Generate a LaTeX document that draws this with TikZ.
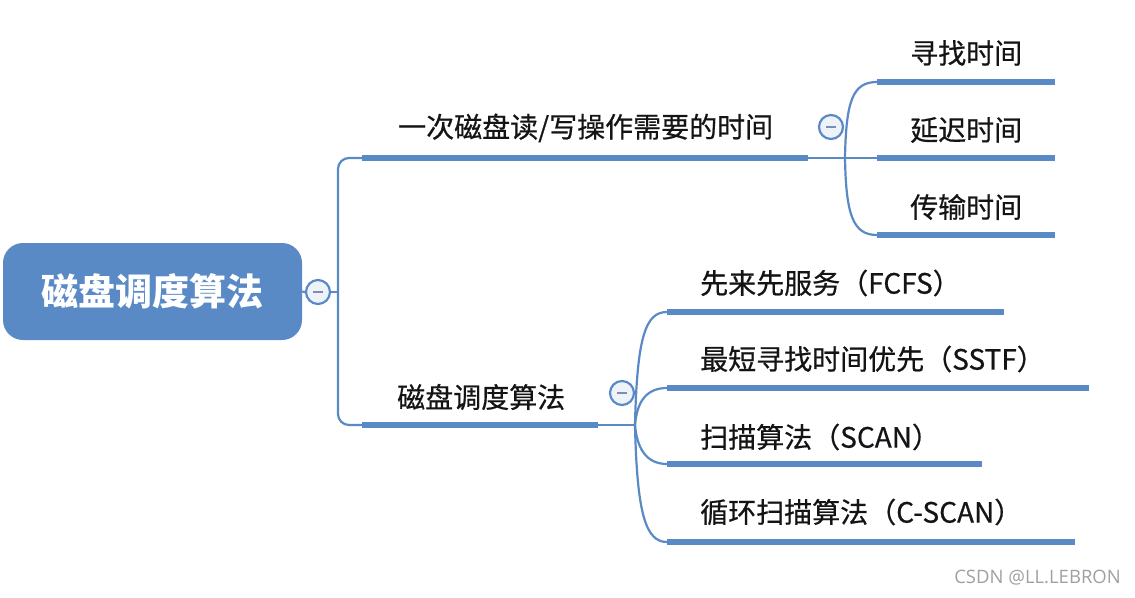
\documentclass[tikz,border=0pt]{standalone}
\usepackage{fontspec}
\setmainfont{Noto Sans CJK SC}
\newfontfamily\lblfont{Noto Sans CJK SC}[FakeBold=0.6]
\newfontfamily\wmfont{Open Sans}
\definecolor{br}{RGB}{90,138,198}
\definecolor{btnfill}{RGB}{238,242,249}
\definecolor{minusc}{RGB}{125,140,180}
\definecolor{wm}{RGB}{160,160,160}
\begin{document}
\begin{tikzpicture}[x=1pt,y=-1pt,
  thinln/.style={draw=br,line width=2.2pt},
  uline/.style={draw=br,line width=6pt},
  rootbox/.style={rounded corners=20pt,fill=br,text=white,font=\fontsize{37}{40}\selectfont\bfseries,
    minimum width=299pt,minimum height=97pt,inner sep=0pt},
  lbl/.style={anchor=west,inner sep=0pt,font=\lblfont\fontsize{28}{30}\selectfont,text=black!92},
  btn/.style={circle,draw=br,fill=btnfill,line width=2.2pt,minimum size=24pt,inner sep=0pt,
    path picture={\draw[line width=1.6pt,minusc] ([xshift=-5pt]path picture bounding box.center) -- ([xshift=5pt]path picture bounding box.center);}}
]
\useasboundingbox (0,0) rectangle (1135,597);
% root
\node[rootbox] (root) at (152.5,291.5) {磁盘调度算法};
\node[btn] (c0) at (318,292) {};
\draw[thinln] (root.east) -- (c0.west);
\coordinate (vj) at (338,292);
\draw[thinln] (c0.east) -- (vj);
% branch anchors
\coordinate (b1s) at (362,158);
\coordinate (b1e) at (808,158);
\coordinate (b1x) at (845,158);
\coordinate (b2s) at (362,425);
\coordinate (b2e) at (598,425);
\coordinate (b2x) at (635,425);
\draw[thinln,rounded corners=11pt] (b1s) -| (vj) |- (b2s);
% branch 1
\node[lbl] (t1) at (398,128) {一次磁盘读/写操作需要的时间};
\draw[uline] (b1s) -- (b1e);
\draw[thinln] (b1e) -- (b1x);
\node[btn] (c1) at (831,127) {};
% leaves of branch 1
\coordinate (l11s) at (877,82);  \coordinate (l11e) at (1055,82);
\coordinate (l12s) at (877,158); \coordinate (l12e) at (1055,158);
\coordinate (l13s) at (877,235); \coordinate (l13e) at (1055,235);
\node[lbl] (t11) at (910,53) {寻找时间};
\node[lbl] (t12) at (910,130) {延迟时间};
\node[lbl] (t13) at (910,207) {传输时间};
\draw[uline] (l11s) -- (l11e);
\draw[uline] (l12s) -- (l12e);
\draw[uline] (l13s) -- (l13e);
\draw[thinln] (b1x) .. controls (846,100) and (853,82) .. (l11s);
\draw[thinln] (b1x) -- (l12s);
\draw[thinln] (b1x) .. controls (846,215) and (853,235) .. (l13s);
% branch 2
\node[lbl] (t2) at (397,397) {磁盘调度算法};
\draw[uline] (b2s) -- (b2e);
\draw[thinln] (b2e) -- (b2x);
\node[btn] (c2) at (622,393) {};
% leaves of branch 2
\coordinate (l21s) at (667,312); \coordinate (l21e) at (1004,312);
\coordinate (l22s) at (667,388); \coordinate (l22e) at (1089,388);
\coordinate (l23s) at (667,464); \coordinate (l23e) at (982,464);
\coordinate (l24s) at (667,542); \coordinate (l24e) at (1075,542);
\node[lbl] (t21) at (700,283) {先来先服务（FCFS）};
\node[lbl] (t22) at (700,359) {最短寻找时间优先（SSTF）};
\node[lbl] (t23) at (700,437) {扫描算法（SCAN）};
\node[lbl] (t24) at (700,512) {循环扫描算法（C-SCAN）};
\draw[uline] (l21s) -- (l21e);
\draw[uline] (l22s) -- (l22e);
\draw[uline] (l23s) -- (l23e);
\draw[uline] (l24s) -- (l24e);
\draw[thinln] (b2x) .. controls (637,335) and (646,312) .. (l21s);
\draw[thinln] (b2x) .. controls (637,402) and (646,388) .. (l22s);
\draw[thinln] (b2x) .. controls (637,448) and (646,464) .. (l23s);
\draw[thinln] (b2x) .. controls (637,515) and (646,542) .. (l24s);
% watermark
\node[anchor=east,inner sep=0pt,text=wm,font=\wmfont\fontsize{18.5}{20}\selectfont] (wmk) at (1121,578) {CSDN @LL.LEBRON};
\end{tikzpicture}
\end{document}
